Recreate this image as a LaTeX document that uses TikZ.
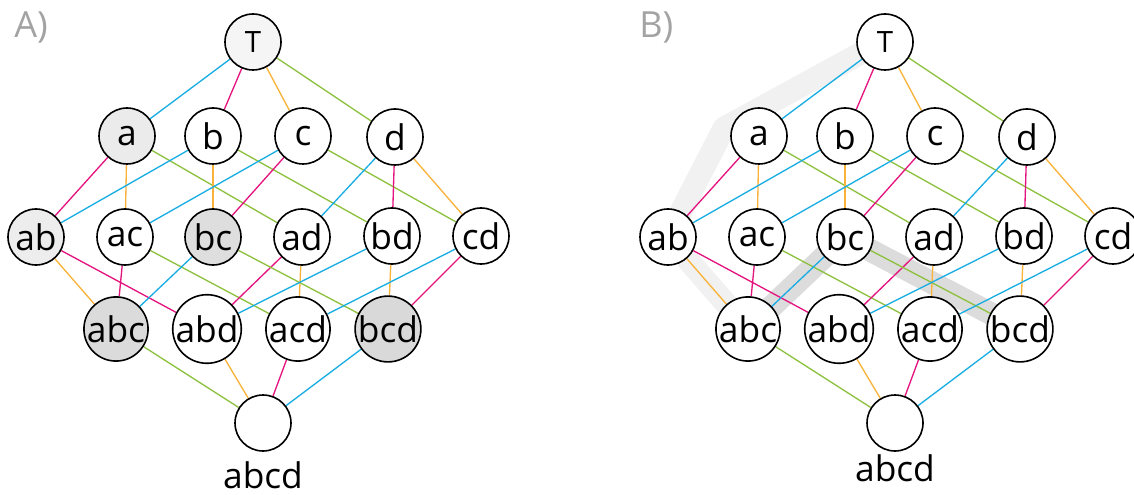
\documentclass[tikz,border=0pt]{standalone}
\usepackage{fontspec}
\newfontfamily\lfont{Open Sans}
\usetikzlibrary{calc}
\pgfdeclarelayer{bands}
\pgfdeclarelayer{edges}
\pgfsetlayers{bands,edges,main}
\definecolor{ca}{HTML}{1AADE4}
\definecolor{cb}{HTML}{E5157F}
\definecolor{cc}{HTML}{F9B23A}
\definecolor{cd}{HTML}{8DC13F}
\definecolor{bandlight}{HTML}{F1F1F1}
\definecolor{banddark}{HTML}{DCDCDC}
\definecolor{panelgray}{HTML}{A3A3A3}
\tikzset{
  lnode/.style={circle,draw=black,line width=1.2pt,fill=white,minimum size=42pt,inner sep=0pt,
    font=\lfont\fontsize{26.5}{31}\selectfont},
  tnode/.style={lnode,font=\lfont\fontsize{22}{26}\selectfont},
  botlab/.style={anchor=base,inner sep=0pt,font=\lfont\fontsize{26.5}{31}\selectfont},
  panellab/.style={anchor=base west,inner sep=0pt,text=panelgray,font=\lfont\fontsize{27}{32}\selectfont},
  ea/.style={draw=ca,line width=1pt},
  eb/.style={draw=cb,line width=1pt},
  ec/.style={draw=cc,line width=1pt},
  ed/.style={draw=cd,line width=1pt},
  band/.style={line width=17pt,line join=round,line cap=round},
  AfT/.style={fill=black!4},
  Afa/.style={fill=black!8},
  Afab/.style={fill=black!7},
  Afbc/.style={fill=black!13},
  Afabc/.style={fill=black!14},
  Afbcd/.style={fill=black!15},
  BfT/.style={}, Bfa/.style={}, Bfab/.style={}, Bfbc/.style={}, Bfabc/.style={}, Bfbcd/.style={},
}
\newcommand\lattice[3]{%
  \node[tnode,#1fT] (#1T) at (#2+253,42) {T};
  \node[lnode,#1fa] (#1a) at (#2+127,136) {a};
  \node[lnode] (#1b) at (#2+213,136) {b};
  \node[lnode] (#1c) at (#2+303,136) {c};
  \node[lnode] (#1d) at (#2+395,137) {d};
  \node[lnode,#1fab] (#1ab) at (#2+36,237) {ab};
  \node[lnode] (#1ac) at (#2+125,237) {ac};
  \node[lnode,#1fbc] (#1bc) at (#2+213,237) {bc};
  \node[lnode] (#1ad) at (#2+302,237) {ad};
  \node[lnode] (#1bd) at (#2+392,236) {bd};
  \node[lnode] (#1cd) at (#2+481,236) {cd};
  \node[lnode,#1fabc] (#1abc) at (#2+116,329) {abc};
  \node[lnode] (#1abd) at (#2+207,329) {abd};
  \node[lnode] (#1acd) at (#2+298,329) {acd};
  \node[lnode,#1fbcd] (#1bcd) at (#2+388,329) {bcd};
  \node[lnode] (#1abcd) at (#2+263,423) {};
  \node[botlab] (#1lab) at (#2+263,#3) {abcd};
  \begin{pgfonlayer}{edges}
    \draw[ea] (#1T) -- (#1a);
    \draw[eb] (#1T) -- (#1b);
    \draw[ec] (#1T) -- (#1c);
    \draw[ed] (#1T) -- (#1d);
    \draw[eb] (#1a) -- (#1ab);
    \draw[ec] (#1a) -- (#1ac);
    \draw[ed] (#1a) -- (#1ad);
    \draw[ea] (#1b) -- (#1ab);
    \draw[ec] (#1b) -- (#1bc);
    \draw[ed] (#1b) -- (#1bd);
    \draw[ea] (#1c) -- (#1ac);
    \draw[eb] (#1c) -- (#1bc);
    \draw[ed] (#1c) -- (#1cd);
    \draw[ea] (#1d) -- (#1ad);
    \draw[eb] (#1d) -- (#1bd);
    \draw[ec] (#1d) -- (#1cd);
    \draw[ec] (#1ab) -- (#1abc);
    \draw[eb] (#1ab) -- (#1abd);
    \draw[eb] (#1ac) -- (#1abc);
    \draw[ed] (#1ac) -- (#1acd);
    \draw[eb] (#1ad) -- (#1abd);
    \draw[ec] (#1ad) -- (#1acd);
    \draw[ea] (#1bc) -- (#1abc);
    \draw[ed] (#1bc) -- (#1bcd);
    \draw[ea] (#1bd) -- (#1abd);
    \draw[ec] (#1bd) -- (#1bcd);
    \draw[ea] (#1cd) -- (#1acd);
    \draw[eb] (#1cd) -- (#1bcd);
    \draw[ed] (#1abc) -- (#1abcd);
    \draw[ec] (#1abd) -- (#1abcd);
    \draw[eb] (#1acd) -- (#1abcd);
    \draw[ea] (#1bcd) -- (#1abcd);
  \end{pgfonlayer}
}
\begin{document}
\begin{tikzpicture}[x=0.75pt,y=-0.75pt]
  \useasboundingbox (0,0) rectangle (1134,495);
  \node[panellab] (labA) at (14,38) {A)};
  \node[panellab] (labB) at (639,38) {B)};
  \lattice{A}{0}{488}
  \lattice{B}{632}{481}
  \coordinate (bendT) at (885,40);
  \coordinate (benda) at (724,128);
  \begin{pgfonlayer}{bands}
    \draw[band,bandlight] (bendT) -- (benda) -- (Bab.center) -- (Babc.center);
    \draw[band,banddark] (Babc.center) -- (Bbc.center) -- (Bbcd.center);
  \end{pgfonlayer}
\end{tikzpicture}
\end{document}
